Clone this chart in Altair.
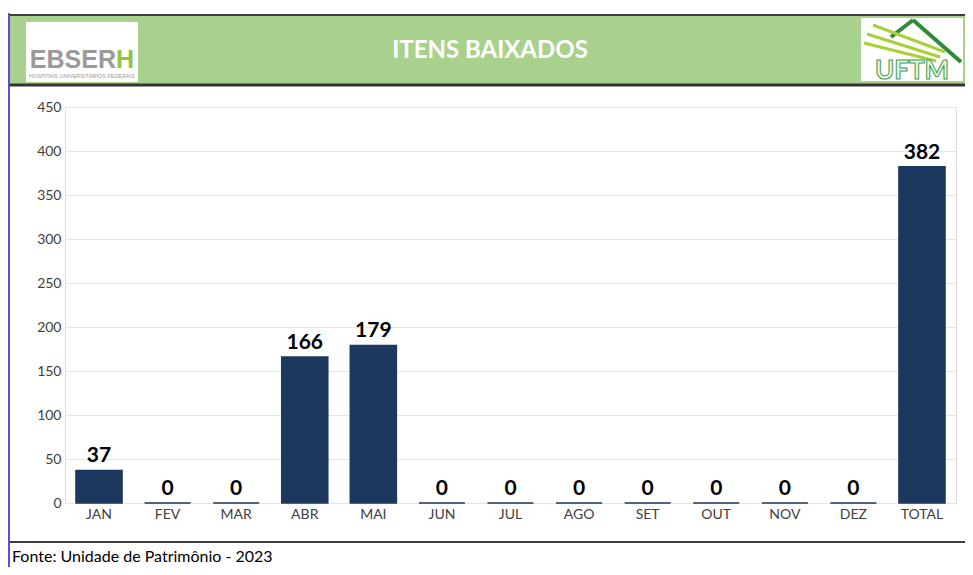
import altair as alt
import pandas as pd

# ---- data ----
meses = ["JAN", "FEV", "MAR", "ABR", "MAI", "JUN", "JUL", "AGO", "SET", "OUT", "NOV", "DEZ", "TOTAL"]
valores = [37, 0, 0, 166, 179, 0, 0, 0, 0, 0, 0, 0, 382]
y_ticks = [0, 50, 100, 150, 200, 250, 300, 350, 400, 450]
titulo = "ITENS BAIXADOS"
fonte = "Fonte: Unidade de Patrimônio - 2023"

df = pd.DataFrame({"mes": meses, "valor": valores})
dummy = pd.DataFrame({"d": [0]})

BAR = "#1c385e"
FONT = "Lato"
LOGO = "'Liberation Sans', Arial, sans-serif"

W, H = 891, 396

x_enc = alt.X("mes:N", sort=meses,
              scale=alt.Scale(paddingInner=0.328, paddingOuter=0.16),
              axis=alt.Axis(title=None, labelAngle=0, ticks=False, domain=False,
                            labelFont=FONT, labelFontSize=14, labelColor="#404040",
                            labelPadding=4))
y_enc = alt.Y("valor:Q", scale=alt.Scale(domain=[0, 450], nice=False),
              axis=alt.Axis(title=None, values=y_ticks, ticks=False, domain=False,
                            labelFont=FONT, labelFontSize=14, labelColor="#404040",
                            labelPadding=4, grid=True, gridColor="#e6e6e6", gridWidth=1))

bars = alt.Chart(df).mark_bar(color=BAR, stroke=BAR, strokeWidth=1.5).encode(x=x_enc, y=y_enc)
labels = alt.Chart(df).mark_text(font=FONT, fontSize=21, fontWeight="bold", color="#000000",
                                 baseline="alphabetic", dy=-8).encode(
    x=alt.X("mes:N", sort=meses), y=alt.Y("valor:Q"), text=alt.Text("valor:Q"))


def rect(x, x2, y, y2, color):
    return alt.Chart(dummy).mark_rect(color=color).encode(
        x=alt.value(x), x2=alt.value(x2), y=alt.value(y), y2=alt.value(y2))


def hline(x, x2, y, color, w):
    return alt.Chart(dummy).mark_rule(color=color, strokeWidth=w).encode(
        x=alt.value(x), x2=alt.value(x2), y=alt.value(y))


def seg(x, y, x2, y2, color, w):
    return alt.Chart(dummy).mark_rule(color=color, strokeWidth=w).encode(
        x=alt.value(x), x2=alt.value(x2), y=alt.value(y), y2=alt.value(y2))


def txt(s, x, y, size, color, align="center", weight="normal", font=FONT, **kw):
    return alt.Chart(dummy).mark_text(text=s, fontSize=size, color=color, align=align,
                                      fontWeight=weight, font=font, baseline="alphabetic", **kw).encode(
        x=alt.value(x), y=alt.value(y))


deco = [
    rect(-56, 908, -92, -22, "#a9d18e"),
    hline(-56, 908, -92, "#3c3c3c", 2),
    hline(-56, 908, -22, "#333333", 3),
    hline(-56, 908, 435, "#3c3c3c", 2),
    seg(-56, -94, -56, 470, "#5a4fd0", 2),
    txt(titulo, 425, -49, 24, "#ffffff", weight="bold"),
    # EBSERH logo
    rect(-39, 73, -85, -25, "#ffffff"),
    txt("EBSER", 51, -39, 25, "#9a9a9a", align="right", weight="bold", font=LOGO),
    txt("H", 51, -39, 25, "#8dc63f", align="left", weight="bold", font=LOGO),
    txt("HOSPITAIS UNIVERSITÁRIOS FEDERAIS", 17, -29, 5.5, "#9a9a9a", font=LOGO),
    # UFTM logo
    rect(796, 898, -89, -26, "#ffffff"),
    seg(826, -70, 848, -87, "#2e8b3a", 4),
    seg(848, -87, 896, -45, "#2e8b3a", 4),
    seg(808, -82, 880, -55, "#a6d13a", 3),
    seg(802, -73, 875, -50, "#a6d13a", 3),
    seg(799, -64, 871, -46, "#a6d13a", 3),
    txt("UFTM", 847, -28, 26, "#eaf6ea", weight="bold", stroke="#3f9a4a", strokeWidth=1),
    # footer
    txt(fonte, -53, 455, 16, "#000000", align="left"),
]

chart = alt.layer(*deco, bars, labels).properties(
    width=W, height=H,
    padding={"left": 57, "top": 99, "right": 9, "bottom": 64},
    autosize=alt.AutoSizeParams(type="none"),
).configure_view(stroke=None).configure(background="#ffffff")

chart.save("out.html", embed_options={"renderer": "svg", "actions": False})
